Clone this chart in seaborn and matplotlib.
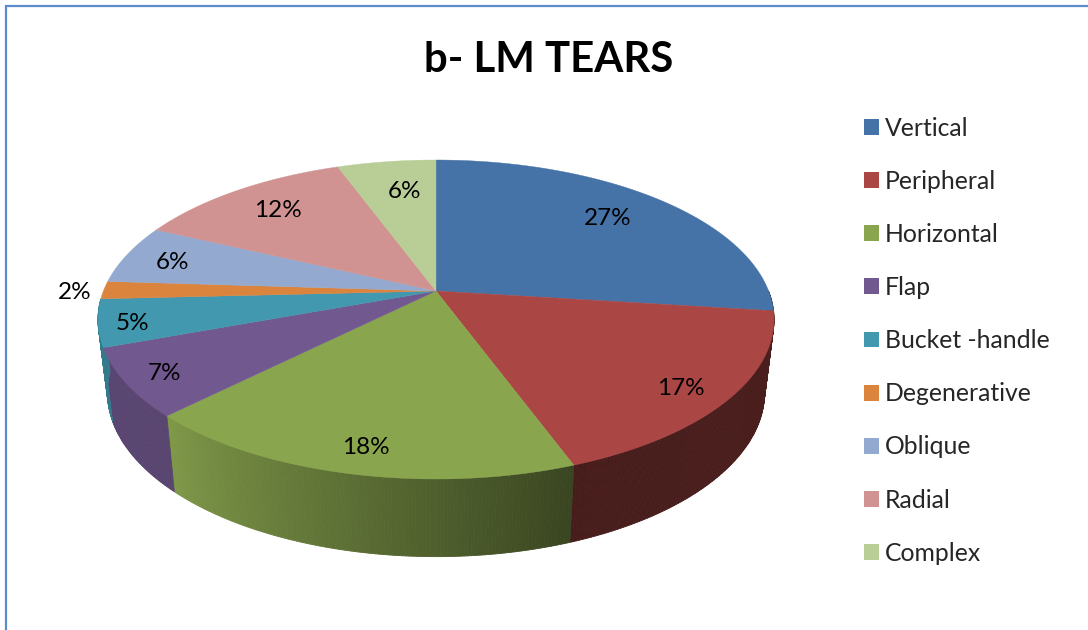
import numpy as np
import matplotlib
matplotlib.use("Agg")
import matplotlib.pyplot as plt
from matplotlib.collections import PolyCollection
from matplotlib.colors import to_rgb
from matplotlib.patches import Patch
import seaborn as sns

categories = ['Vertical', 'Peripheral', 'Horizontal', 'Flap', 'Bucket -handle',
              'Degenerative', 'Oblique', 'Radial', 'Complex']
# the labels show them rounded
percents = [27.0, 17.4, 18.1, 6.9, 4.8, 1.8, 6.0, 12.4, 5.6]
title = 'b- LM TEARS'

colors = ['#4572A7', '#AA4643', '#89A54E', '#71588F', '#4198AF',
          '#DB843D', '#93A9CF', '#D19392', '#B9CD96']
# brightness of each side wall at its start and at its end (going clockwise)
wall_start = [0.45, 0.44, 0.42, 0.78, 0.80, 0.8, 0.8, 0.8, 0.8]
wall_end = [0.45, 0.42, 0.92, 0.80, 0.80, 0.8, 0.8, 0.8, 0.8]
# where the label sits along the radius, plus a pixel nudge
label_radius = [0.77, 0.87, 0.87, 0.87, 0.90, 1.09, 0.87, 0.83, 0.73]
label_dx = [-4, -6, 3, -5, 0, 1, 6, 10, 6]
label_dy = [0, 5, 2, 4, 4, 3, 4, 5, -1]

sns.set_theme(style='white')
plt.rcParams['font.family'] = ['Lato', 'DejaVu Sans']

# pixel position of the hub and the perspective of the disc
hub_x, hub_y = 436, 291
scale_x, scale_y, tilt = 332.6, 154.4, 0.1787
depth, bottom_x, bottom_y = 72, 0.972, 1.03


def project(angle, radius=1.0):
    # angle in degrees clockwise from 12 o'clock
    a = np.radians(angle)
    x, y = radius * np.sin(a), radius * np.cos(a)
    den = 1 + tilt * y
    return hub_x + scale_x * x / den, hub_y - scale_y * y / den


def project_bottom(angle):
    px, py = project(angle)
    return hub_x + (px - hub_x) * bottom_x, hub_y + (py - hub_y) * bottom_y + depth


fig, ax = plt.subplots(figsize=(10.88, 6.3), dpi=100)
ax.set_position([0, 0, 1, 1])
ax.set_xlim(0, 1088)
ax.set_ylim(630, 0)
ax.axis('off')

# chart frame, only top and left are in the crop
ax.plot([6, 6, 1088], [630, 6, 6], color='#5B8BC9', lw=1.6, solid_joinstyle='miter')

edges = np.cumsum([0] + percents) * 3.6

# side walls first
for i, color in enumerate(colors):
    start, end = max(edges[i], 90), min(edges[i + 1], 267)
    if end <= start:
        continue
    steps = np.linspace(start, end, max(int(end - start) * 2, 2) + 1)
    polys, shades = [], []
    base = np.array(to_rgb(color))
    for k in range(len(steps) - 1):
        t0, t1 = steps[k], steps[k + 1]
        polys.append([project(t0), project(t1), project_bottom(t1), project_bottom(t0)])
        frac = k / max(len(steps) - 2, 1)
        shades.append(base * (wall_start[i] + (wall_end[i] - wall_start[i]) * frac))
    ax.add_collection(PolyCollection(polys, facecolors=shades, edgecolors=shades, linewidths=0.6))

# top of the disc
for i, color in enumerate(colors):
    angles = np.linspace(edges[i], edges[i + 1], 80)
    px, py = project(angles)
    ax.fill(np.r_[hub_x, px], np.r_[hub_y, py], color=color, lw=0.3)

for i, pct in enumerate(percents):
    lx, ly = project((edges[i] + edges[i + 1]) / 2, label_radius[i])
    ax.text(lx + label_dx[i], ly + label_dy[i], f'{round(pct)}%', ha='center', va='center',
            fontsize=17.5, color='black')

ax.text(548.5, 60, title, ha='center', va='center', fontsize=30.2, fontweight='bold', color='black')

handles = [Patch(facecolor=c, edgecolor='none') for c in colors]
ax.legend(handles, categories, loc='upper left', bbox_to_anchor=(864 / 1088, 1 - 116.5 / 630),
          frameon=False, fontsize=17.8, handlelength=0.61, handleheight=0.61,
          handletextpad=0.22, labelspacing=1.22, borderpad=0, borderaxespad=0)

fig.savefig('out.png', dpi=100, facecolor='white')
